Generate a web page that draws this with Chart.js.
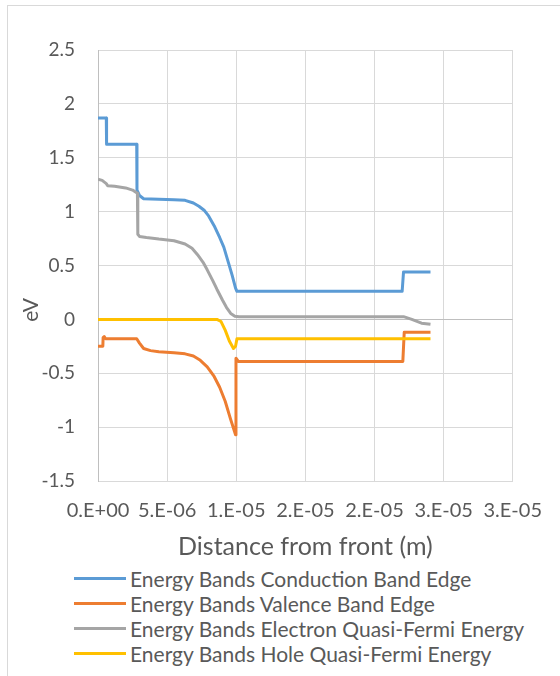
<!DOCTYPE html>
<html>
<head>
<meta charset="utf-8">
<script src="https://cdn.jsdelivr.net/npm/chart.js"></script>
<style>
  body { margin: 0; background: #fff; }
  #wrap { position: relative; width: 560px; height: 676px; overflow: hidden; }
  #frame { position: absolute; left: 7px; top: 5px; width: 600px; height: 700px;
           border-left: 1px solid #d9d9d9; border-top: 1px solid #d9d9d9; }
  #chart { position: absolute; left: 0; top: 0; }
  #legend { position: absolute; left: 74px; top: 566px; font-family: Lato, sans-serif;
            font-size: 21px; color: #595959; }
  .item { height: 25px; display: flex; align-items: center; white-space: nowrap; }
  .swatch { width: 52px; height: 3px; margin-right: 4px; }
</style>
</head>
<body>
<div id="wrap">
  <div id="frame"></div>
  <canvas id="chart" width="560" height="565"></canvas>
  <div id="legend"></div>
</div>
<script>
// x positions are in micrometres, converted to metres when the points are built
const seriesNames = [
  "Energy Bands Conduction Band Edge",
  "Energy Bands Valence Band Edge",
  "Energy Bands Electron Quasi-Fermi Energy",
  "Energy Bands Hole Quasi-Fermi Energy",
];
const seriesColors = ["#5b9bd5", "#ed7d31", "#a5a5a5", "#ffc000"];

const conductionX = [0, 0.6, 0.62, 2.8, 2.82, 3.0, 3.3, 4.4, 5.5, 6.3, 6.9, 7.3, 7.7, 8.0, 8.4, 8.8, 9.1, 9.45, 9.7, 9.95, 10.05, 22.0, 22.1, 24.05];
const conductionY = [1.87, 1.87, 1.625, 1.625, 1.2, 1.15, 1.12, 1.115, 1.11, 1.105, 1.08, 1.05, 1.01, 0.96, 0.87, 0.76, 0.67, 0.52, 0.41, 0.29, 0.26, 0.26, 0.44, 0.44];

const valenceX = [0, 0.35, 0.37, 0.45, 0.55, 2.8, 3.0, 3.3, 3.8, 4.4, 5.5, 6.3, 6.9, 7.4, 7.9, 8.4, 8.8, 9.2, 9.6, 9.95, 9.98, 10.15, 22.05, 22.15, 24.05];
const valenceY = [-0.25, -0.25, -0.17, -0.16, -0.18, -0.18, -0.22, -0.27, -0.29, -0.3, -0.31, -0.32, -0.34, -0.38, -0.44, -0.53, -0.63, -0.76, -0.93, -1.07, -0.36, -0.39, -0.39, -0.12, -0.12];

const electronX = [0, 0.3, 0.6, 0.7, 1.2, 2.0, 2.5, 2.85, 2.88, 3.0, 3.5, 4.4, 5.5, 6.3, 6.8, 7.2, 7.6, 7.9, 8.3, 8.6, 9.0, 9.3, 9.6, 9.9, 10.2, 22.1, 22.7, 23.4, 24.05];
const electronY = [1.3, 1.29, 1.26, 1.24, 1.235, 1.22, 1.2, 1.17, 0.79, 0.77, 0.76, 0.745, 0.73, 0.7, 0.66, 0.6, 0.53, 0.46, 0.36, 0.28, 0.18, 0.11, 0.055, 0.03, 0.025, 0.025, 0.0, -0.035, -0.045];

const holeX = [0, 8.6, 8.9, 9.2, 9.5, 9.8, 9.95, 10.05, 24.05];
const holeY = [0, 0, -0.02, -0.1, -0.2, -0.27, -0.25, -0.18, -0.18];

const xTickLabels = ["0.E+00", "5.E-06", "1.E-05", "2.E-05", "2.E-05", "3.E-05", "3.E-05"];
const yTickLabels = ["-1.5", "-1", "-0.5", "0", "0.5", "1", "1.5", "2", "2.5"];

const xValues = [conductionX, valenceX, electronX, holeX];
const yValues = [conductionY, valenceY, electronY, holeY];

function toPoints(xs, ys) {
  const points = [];
  for (let i = 0; i < xs.length; i++) {
    points.push({ x: xs[i] * 1e-6, y: ys[i] });
  }
  return points;
}

const textColor = "#595959";
Chart.defaults.font.family = "Lato";
Chart.defaults.color = textColor;

// rotated "eV" title, Excel puts it a bit below the middle
const yTitlePlugin = {
  id: "yTitle",
  afterDraw(chart) {
    const ctx = chart.ctx;
    ctx.save();
    ctx.translate(31, 310);
    ctx.rotate(-Math.PI / 2);
    ctx.font = "21px Lato";
    ctx.fillStyle = textColor;
    ctx.textAlign = "center";
    ctx.textBaseline = "middle";
    ctx.fillText("eV", 0, 0);
    ctx.restore();
  },
};

const datasets = seriesNames.map((name, i) => ({
  label: name,
  data: toPoints(xValues[i], yValues[i]),
  borderColor: seriesColors[i],
  backgroundColor: seriesColors[i],
  borderWidth: 3,
  borderJoinStyle: "round",
  pointRadius: 0,
  showLine: true,
  tension: 0,
  order: seriesNames.length - i,
}));

new Chart(document.getElementById("chart"), {
  type: "scatter",
  data: { datasets: datasets },
  options: {
    responsive: false,
    animation: false,
    layout: { padding: { top: 50, right: 38, left: 0, bottom: 0 } },
    plugins: { legend: { display: false }, tooltip: { enabled: false } },
    scales: {
      x: {
        type: "linear",
        min: 0,
        max: 3e-5,
        afterFit: (scale) => { scale.height = 84; },
        ticks: {
          stepSize: 5e-6,
          maxRotation: 0,
          autoSkip: false,
          padding: 18,
          font: { size: 20 },
          callback: (value, index) => xTickLabels[index],
        },
        grid: { color: "#d9d9d9", drawTicks: false },
        border: { color: "#d9d9d9" },
        title: {
          display: true,
          text: "Distance from front (m)",
          font: { size: 25 },
          padding: { top: 0, bottom: 3 },
        },
      },
      y: {
        min: -1.5,
        max: 2.5,
        afterFit: (scale) => { scale.width = 98; },
        ticks: {
          stepSize: 0.5,
          padding: 23,
          font: { size: 19 },
          callback: (value, index) => yTickLabels[index],
        },
        grid: {
          drawTicks: false,
          color: (c) => (c.tick && c.tick.value === 0 ? "#bfbfbf" : "#d9d9d9"),
        },
        border: { color: "#bfbfbf" },
      },
    },
  },
  plugins: [yTitlePlugin],
});

// legend, one entry per row like the Excel one
const legendElement = document.getElementById("legend");
for (let i = 0; i < seriesNames.length; i++) {
  const row = document.createElement("div");
  row.className = "item";
  const swatch = document.createElement("span");
  swatch.className = "swatch";
  swatch.style.background = seriesColors[i];
  const text = document.createElement("span");
  text.innerText = seriesNames[i];
  row.appendChild(swatch);
  row.appendChild(text);
  legendElement.appendChild(row);
}
</script>
</body>
</html>
